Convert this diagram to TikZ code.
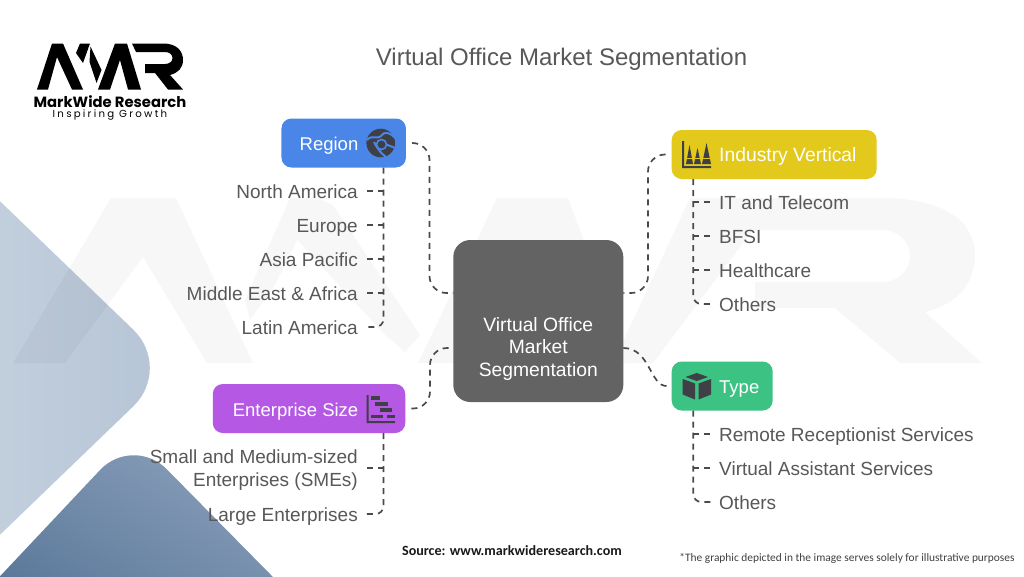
\documentclass[tikz,border=0pt]{standalone}
\usepackage{fontspec}
\setmainfont{Liberation Sans}
\newfontfamily\logofont{Poppins}
\newfontfamily\capfont{Carlito}
\usetikzlibrary{calc}
\definecolor{inkc}{HTML}{585858}
\definecolor{linec}{HTML}{4A4A4A}
\definecolor{iconc}{HTML}{3F3F46}
\definecolor{regc}{HTML}{4A86E8}
\definecolor{indc}{HTML}{E2C91B}
\definecolor{entc}{HTML}{B558E3}
\definecolor{typc}{HTML}{3CC282}
\definecolor{cenc}{HTML}{636363}
\definecolor{lighta}{HTML}{CBD6E2}
\definecolor{lightb}{HTML}{B5C4D5}
\definecolor{darka}{HTML}{8EA3BE}
\definecolor{darkb}{HTML}{547294}
\newcommand{\linerule}{\rule[-5.6pt]{0pt}{25.4pt}}
\tikzset{
  hdr/.style={rounded corners=10pt,minimum height=49pt,inner sep=0pt},
  hdrtext/.style={text=white,inner sep=0pt,font=\fontsize{18.5}{22}\selectfont,execute at begin node=\linerule},
  item/.style={text=inkc,font=\fontsize{19}{23}\selectfont,inner sep=0pt,anchor=east,align=right},
  itemr/.style={text=inkc,font=\fontsize{19}{23}\selectfont,inner sep=0pt,anchor=west,align=left},
  conn/.style={draw=linec,line width=1.7pt,dash pattern=on 6pt off 5pt},
  bigconn/.style={conn,rounded corners=17pt,shorten <=6pt},
  branch/.style={conn,shorten >=8pt},
  icon/.style={fill=iconc,draw=none},
  logoink/.style={fill=black}
}
\begin{document}
\begin{tikzpicture}[x=1pt,y=-1pt]
\useasboundingbox (0,0) rectangle (1024,576);
\fill[white] (0,0) rectangle (1024,576);
% decorative shapes
\begin{scope}
\clip (0,0) rectangle (1024,576);
\shade[left color=lighta,right color=lightb,rounded corners=55pt]
  (-130,76) -- (173,368) -- (-130,660) -- cycle;
\shade[left color=darka,right color=darkb,shading angle=-30,rounded corners=48pt]
  (-60,640) -- (133,435) -- (340,645) -- cycle;
\end{scope}
% watermark
\begin{scope}[transparency group,opacity=.032]
\fill[black] (13,363) -- (111,198) -- (176,198) -- (253,363) -- (207,363) -- (143,257) -- (65,363) -- cycle;
\fill[black] (290,198) -- (318,198) -- (275,285) -- (250,320) -- (245,300) -- cycle;
\fill[black] (318,198) -- (333,205) -- (420,335) -- (405,352) -- (385,335) -- (290,232) -- cycle;
\fill[black] (418,363) -- (497,198) -- (568,198) -- (630,363) -- (585,363) -- (533,262) -- (477,363) -- cycle;
\fill[black] (690,198) -- (880,198) .. controls (950,198) and (975,225) .. (975,255) .. controls (975,285) and (955,305) .. (925,312) -- (982,363) -- (900,363) -- (835,308) -- (755,308) -- (755,282) -- (880,282) .. controls (920,282) and (920,230) .. (880,230) -- (753,230) -- (653,363) -- (613,363) -- cycle;
\end{scope}
% title
\node[text=inkc,inner sep=0pt,font=\fontsize{24}{28}\selectfont] (title) at (561.5,59.5) {Virtual Office Market Segmentation};
% logo
\fill[logoink] (37,89.5) -- (52,43.5) -- (63,43.5) -- (83,89.5) -- (72,89.5) -- (57,57) -- (48,89.5) -- cycle;
\fill[logoink] (80,43.5) -- (90,43.5) -- (83,63) -- (76,53) -- cycle;
\fill[logoink] (90.5,46.5) -- (101.5,70) -- (96.5,83) -- (89.5,62) -- cycle;
\fill[logoink] (98,89.5) -- (115,43.5) -- (127,43.5) -- (141,89.5) -- (128,89.5) -- (120,60) -- (110,89.5) -- cycle;
\fill[logoink] (132,43.5) -- (163,43.5) .. controls (178,43.5) and (183,52) .. (183,60) .. controls (183,68) and (178,73) .. (170,75) -- (183,89.5) -- (168,89.5) -- (155,73) -- (145,73) -- (145,64) -- (165,64) .. controls (175,64) and (175,52) .. (165,52) -- (136,52) -- cycle;
\node[inner sep=0pt,font=\logofont\bfseries\fontsize{14.8}{16}\selectfont] (logoa) at (110,101.5) {MarkWide Research};
\node[inner sep=0pt,font=\logofont\addfontfeature{LetterSpace=22}\fontsize{10.2}{12}\selectfont] (logob) at (110,115) {Inspiring Growth};
% center
\node[fill=cenc,rounded corners=17pt,minimum width=170pt,minimum height=162pt,inner sep=0pt] (center) at (538.3,321) {};
\node[text=white,inner sep=0pt,align=center,font=\fontsize{19.3}{22.5}\selectfont] (centertext) at (538.3,349) {Virtual Office\\Market\\Segmentation};
\coordinate (cLT) at (453.3,293);
\coordinate (cLB) at (453.3,348);
\coordinate (cRT) at (623.3,293);
\coordinate (cRB) at (623.3,348);
% headers
\node[hdr,fill=regc,minimum width=124.5pt] (region) at (343.7,143) {};
\node[hdr,fill=indc,minimum width=205pt] (industry) at (774.2,154.5) {};
\node[hdr,fill=entc,minimum width=192.5pt] (enterprise) at (309,408.5) {};
\node[hdr,fill=typc,minimum width=101pt] (type) at (722.2,386) {};
\node[hdrtext,anchor=east] (regiont) at (358.5,143) {Region};
\node[hdrtext,anchor=west,font=\fontsize{19.3}{22}\selectfont] (industryt) at (719,154.5) {Industry Vertical};
\node[hdrtext,anchor=east] (enterpriset) at (358.5,409) {Enterprise Size};
\node[hdrtext,anchor=west] (typet) at (719,386.5) {Type};
% main connectors
\draw[bigconn] (region.east) -| (429.5,293) -- (cLT);
\draw[bigconn] (industry.west) -| (648,293) -- (cRT);
\draw[bigconn] (enterprise.east) -| (430,348) -- (cLB);
\draw[conn,shorten <=5pt] (type.west) .. controls (650,386) and (650,348) .. (cRB);
% items left
\node[item,execute at begin node=\linerule] (na) at (358,191) {North America};
\node[item,execute at begin node=\linerule] (eu) at (358,225) {Europe};
\node[item,execute at begin node=\linerule] (ap) at (358,259) {Asia Pacific};
\node[item,execute at begin node=\linerule] (me) at (358,293) {Middle East \& Africa};
\node[item,execute at begin node=\linerule] (la) at (358,327) {Latin America};
\node[item] (sme) at (358,468) {\rule{0pt}{19.8pt}Small and Medium-sized\\Enterprises (SMEs)\rule[-5.6pt]{0pt}{5.6pt}};
\node[item,execute at begin node=\linerule] (le) at (358,514) {Large Enterprises};
% items right
\node[itemr,execute at begin node=\linerule] (it) at (719,202) {IT and Telecom};
\node[itemr,execute at begin node=\linerule] (bf) at (719,236) {BFSI};
\node[itemr,execute at begin node=\linerule] (hc) at (719,270) {Healthcare};
\node[itemr,execute at begin node=\linerule] (oi) at (719,304) {Others};
\node[itemr,execute at begin node=\linerule] (rr) at (719,434) {Remote Receptionist Services};
\node[itemr,execute at begin node=\linerule] (va) at (719,468) {Virtual Assistant Services};
\node[itemr,execute at begin node=\linerule] (ot) at (719,502) {Others};
% trunks
\coordinate (tR) at (383.5,167.5);
\coordinate (tE) at (383.5,433);
\coordinate (tI) at (693.3,179);
\coordinate (tT) at (693.3,410.5);
\draw[conn,rounded corners=8pt,shorten >=6pt] (tR) |- (la.east);
\draw[conn,rounded corners=8pt,shorten >=6pt] (tE) |- (le.east);
\draw[conn,rounded corners=8pt,shorten >=6pt] (tI) |- (oi.west);
\draw[conn,rounded corners=8pt,shorten >=6pt] (tT) |- (ot.west);
\foreach \n in {na,eu,ap,me,sme}
  \draw[branch] (\n.east -| tR) -- (\n.east);
\foreach \n in {it,bf,hc}
  \draw[branch] (\n.west -| tI) -- (\n.west);
\foreach \n in {rr,va}
  \draw[branch] (\n.west -| tT) -- (\n.west);
% region icon
\fill[icon] (380.7,143) circle (14.3);
\draw[regc,line width=2pt] (367,140) .. controls (372,134) and (378,140) .. (381,136) .. controls (384,131) and (390,132) .. (395,138);
\draw[regc,line width=2pt] (374,142) .. controls (378,150) and (382,154) .. (386,157);
\draw[regc,line width=1.6pt] (381.5,144.5) circle (5);
\draw[regc,line width=2pt] (386.5,144.5) -- (395,148);
% industry icon
\fill[icon] (682,141) rectangle (684,168) (682,166) rectangle (711,168);
\fill[icon] (686,164) -- (689.5,145) -- (693,164) -- cycle;
\fill[icon] (694,164) -- (697.5,148) -- (701,164) -- cycle;
\fill[icon] (702,164) -- (706.5,143) -- (711,164) -- cycle;
\draw[indc,line width=1pt] (685,158) -- (711,158);
% enterprise icon
\fill[icon] (366.7,395) rectangle (368.5,423) (366.7,421) rectangle (395,423);
\fill[icon] (370.5,396) rectangle (380,399.5);
\fill[icon] (375,402) rectangle (388,405.5);
\fill[icon] (380,408) rectangle (392,411.5);
\fill[icon] (370.5,414.5) rectangle (383,418);
\fill[icon] (387,414.5) rectangle (395,418);
% type icon
\fill[icon] (696.8,373) -- (708,377) -- (696.8,381) -- (685.5,377) -- cycle;
\fill[icon] (682.7,379) -- (695,383.5) -- (695,399.5) -- (682.7,394.5) -- cycle;
\fill[icon] (711,379) -- (698.6,383.5) -- (698.6,399.5) -- (711,394.5) -- cycle;
% source
\node[inner sep=0pt,font=\capfont\bfseries\fontsize{14.1}{16}\selectfont,text=black!90] (src) at (512,551) {Source: www.markwideresearch.com};
\node[inner sep=0pt,font=\capfont\fontsize{11.4}{15}\selectfont,text=black!75] (note) at (847,558) {*The graphic depicted in the image serves solely for illustrative purposes};
\end{tikzpicture}
\end{document}
